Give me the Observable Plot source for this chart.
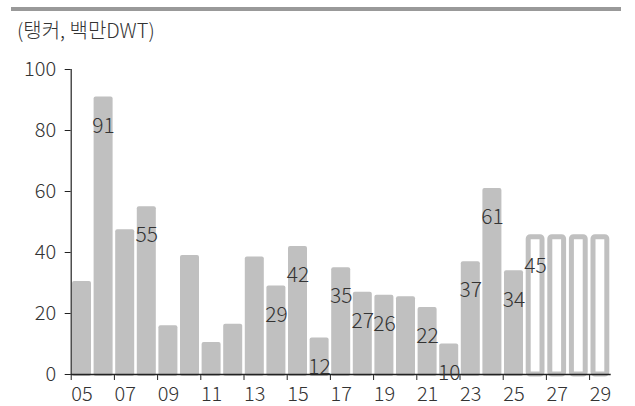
<!DOCTYPE html>
<html>
<head>
<meta charset="utf-8">
<script src="https://cdn.jsdelivr.net/npm/d3@7"></script>
<script src="https://cdn.jsdelivr.net/npm/@observablehq/plot@0.6"></script>
<style>
  html, body { margin: 0; padding: 0; background: #fff; }
  #wrap { position: relative; width: 635px; height: 406px; font-family: "Noto Sans CJK KR Light", "Noto Sans CJK KR DemiLight", "Noto Sans CJK KR", "Noto Sans", sans-serif; font-weight: 300; }
  #rule { position: absolute; left: 11px; top: 7px; width: 610px; height: 4px; background: #999; }
  #unit { position: absolute; left: 17px; top: 15px; font-size: 20px; color: #333; line-height: 30px; }
  #chart { position: absolute; left: 0; top: 0; }
  #chart svg { font-family: "Noto Sans CJK KR Light", "Noto Sans CJK KR DemiLight", "Noto Sans CJK KR", "Noto Sans", sans-serif; font-weight: 300; }
</style>
</head>
<body>
<div id="wrap">
  <div id="rule"></div>
  <div id="unit">(탱커, 백만DWT)</div>
  <div id="chart"></div>
</div>
<script>
// Tanker deliveries by year, million DWT
const years = ["05","06","07","08","09","10","11","12","13","14","15","16","17","18","19","20","21","22","23","24","25","26","27","28","29"];
const values = [30.5, 91, 47.5, 55, 16, 39, 10.5, 16.5, 38.5, 29, 42, 12, 35, 27, 26, 25.5, 22, 10, 37, 61, 34, 45, 45, 45, 45];
// years 26-29 are outlook figures, drawn as hollow bars
const forecastYears = ["26","27","28","29"];
// years carrying a value label
const labeledYears = ["06","08","14","15","16","17","18","19","21","22","23","24","25","26"];
const xTicks = ["05","07","09","11","13","15","17","19","21","23","25","27","29"];
const yTicks = [0, 20, 40, 60, 80, 100];

const rows = years.map((year, i) => ({year, value: values[i], forecast: forecastYears.includes(year)}));
const actual = rows.filter(d => !d.forecast);
const outlook = rows.filter(d => d.forecast);
const labeled = rows.filter(d => labeledYears.includes(d.year));

// band layout: 25 years across the plot frame
const pad = 0.12;
const step = 21.6;
const x0 = 72 - step * pad;
const xRange = [x0, x0 + step * (years.length + pad)];

const chart = Plot.plot({
  width: 635,
  height: 406,
  marginLeft: 70.7,
  marginRight: 24.3,
  marginTop: 69,
  marginBottom: 32,
  style: {fontSize: "20px", color: "#333", background: "transparent"},
  x: {domain: years, range: xRange, padding: pad, round: false, axis: null, label: null},
  y: {domain: [0, 100], axis: null, label: null},
  marks: [
    Plot.barY(actual, {x: "year", y: "value", fill: "#c0c0c0", rx: 2, insetBottom: -2}),
    Plot.barY(outlook, {x: "year", y: "value", fill: "#fff", stroke: "#c0c0c0", strokeWidth: 5, rx: 2, insetLeft: 2.6, insetRight: 2.6}),
    Plot.frame({anchor: "left", stroke: "#222", strokeWidth: 1.2}),
    Plot.ruleY([0], {stroke: "#222", strokeWidth: 1.5}),
    Plot.axisY({ticks: yTicks, tickSize: 6, tickPadding: 9, fontSize: 20, fill: "#333", stroke: "#222", label: null}),
    Plot.axisX({ticks: xTicks, tickSize: 0, tickPadding: 12, fontSize: 20, fill: "#333", label: null}),
    Plot.axisX({ticks: xTicks, tickSize: 6, tickFormat: () => "", dx: -step / 2, stroke: "#222", label: null}),
    Plot.text(labeled, {x: "year", y: "value", text: d => String(d.value), dy: 29, fontSize: 21, fill: "#333"})
  ]
});
document.getElementById("chart").append(chart);
</script>
</body>
</html>
